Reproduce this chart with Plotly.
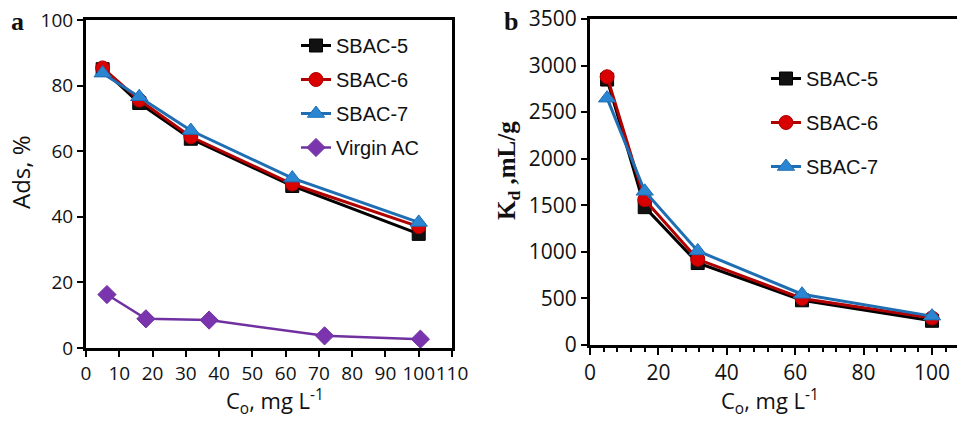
import plotly.graph_objects as go

# ---- data ----
series_names_a = ["SBAC-5", "SBAC-6", "SBAC-7", "Virgin AC"]
co_sbac = [5, 16, 31.5, 62, 100]
ads_sbac5 = [85.0, 74.7, 63.8, 49.4, 34.8]
ads_sbac6 = [85.4, 75.6, 64.4, 50.0, 37.0]
ads_sbac7 = [83.8, 76.6, 66.3, 51.8, 38.3]
co_virgin = [6.3, 18, 37, 71.7, 100.5]
ads_virgin = [16.3, 8.9, 8.5, 3.7, 2.7]

series_names_b = ["SBAC-5", "SBAC-6", "SBAC-7"]
co_kd = [5, 16, 31.5, 62, 100]
kd_sbac5 = [2850, 1480, 880, 480, 260]
kd_sbac6 = [2880, 1560, 920, 500, 290]
kd_sbac7 = [2650, 1650, 1010, 545, 310]

ticks_a_x = list(range(0, 111, 10))
ticks_a_y = list(range(0, 101, 20))
ticks_b_x = list(range(0, 101, 20))
ticks_b_y = list(range(0, 3501, 500))

# ---- styles ----
styles = {
    "SBAC-5": dict(line="#000000", fill="#111111", symbol="square", size=13),
    "SBAC-6": dict(line="#B00000", fill="#D80000", symbol="circle", size=14),
    "SBAC-7": dict(line="#1F6EB3", fill="#2A86D2", symbol="triangle-up", size=15),
    "Virgin AC": dict(line="#7030A0", fill="#7A35AE", symbol="diamond", size=14),
}
W, H = 957, 421
TXT = "#111111"
tick_font = dict(family="Open Sans", size=19, color=TXT)
tick_font_b = dict(family="Open Sans", size=21, color=TXT)
legend_font = dict(family="Liberation Sans", size=20, color=TXT)
title_font = dict(family="Open Sans", size=24, color=TXT)
xtitle_font = dict(family="Open Sans", size=22, color=TXT)

fig = go.Figure()

def add(name, x, y, xa, ya, legend, width):
    s = styles[name]
    fig.add_trace(go.Scatter(
        x=x, y=y, name=name, mode="lines+markers",
        xaxis=xa, yaxis=ya, legend=legend, legendgroup=legend + name,
        line=dict(color=s["line"], width=width),
        marker=dict(symbol=s["symbol"], size=s["size"], color=s["fill"],
                    line=dict(color=s["line"], width=1)),
    ))

add("SBAC-5", co_sbac, ads_sbac5, "x", "y", "legend", 3)
add("SBAC-6", co_sbac, ads_sbac6, "x", "y", "legend", 3)
add("SBAC-7", co_sbac, ads_sbac7, "x", "y", "legend", 3)
add("Virgin AC", co_virgin, ads_virgin, "x", "y", "legend", 2.5)

add("SBAC-5", co_kd, kd_sbac5, "x2", "y2", "legend2", 3)
add("SBAC-6", co_kd, kd_sbac6, "x2", "y2", "legend2", 3)
add("SBAC-7", co_kd, kd_sbac7, "x2", "y2", "legend2", 3)

axis_common = dict(showgrid=False, zeroline=False, showline=True, linecolor="#000000",
                   linewidth=3, ticks="outside", tickcolor="#000000", tickwidth=2,
                   automargin=False, tickangle=0)

fig.update_layout(
    template="none",
    width=W, height=H, margin=dict(l=0, r=0, t=0, b=0, autoexpand=False),
    paper_bgcolor="white", plot_bgcolor="white",
    xaxis=dict(**axis_common, domain=[86 / W, 452 / W], range=[0, 110],
               tickvals=ticks_a_x, ticklen=6, mirror=True, tickfont=tick_font,
               anchor="y"),
    yaxis=dict(**axis_common, domain=[73 / H, 401 / H], range=[0, 100],
               tickvals=ticks_a_y, ticklen=6, mirror=True, tickfont=tick_font,
               anchor="x"),
    xaxis2=dict(**axis_common, domain=[590 / W, 1.0], range=[0, (W - 590) / 3.42],
                tickvals=ticks_b_x, ticklen=7, mirror=True, tickfont=tick_font_b,
                minor=dict(dtick=4, ticks="outside", ticklen=4, tickwidth=2, tickcolor="#000000"),
                anchor="y2"),
    yaxis2=dict(**axis_common, domain=[76 / H, 402 / H], range=[0, 3500],
                tickvals=ticks_b_y, ticklen=6, mirror=False, tickfont=tick_font_b,
                anchor="x2"),
    legend=dict(x=296 / W, y=1 - 26 / H, xanchor="left", yanchor="top",
                bgcolor="rgba(0,0,0,0)", font=legend_font, tracegroupgap=5,
                itemwidth=30),
    legend2=dict(x=766 / W, y=1 - 59 / H, xanchor="left", yanchor="top",
                 bgcolor="rgba(0,0,0,0)", font=legend_font, tracegroupgap=15,
                 itemwidth=30),
    showlegend=True,
)

# axis titles placed as paper annotations to match the reference positions
fig.add_annotation(text="C<sub>o</sub>, mg L<sup>-1</sup>", x=275 / W, y=1 - 420 / H,
                   xref="paper", yref="paper", xanchor="center", yanchor="bottom",
                   showarrow=False, font=xtitle_font, borderpad=0)
fig.add_annotation(text="C<sub>o</sub>, mg L<sup>-1</sup>", x=770 / W, y=1 - 420 / H,
                   xref="paper", yref="paper", xanchor="center", yanchor="bottom",
                   showarrow=False, font=xtitle_font, borderpad=0)
fig.add_annotation(text="Ads, %", x=20 / W, y=1 - 172 / H, xref="paper", yref="paper",
                   textangle=-90, xanchor="center", yanchor="middle", showarrow=False,
                   font=title_font)
fig.add_annotation(text="<b>K<sub>d</sub> ,mL/g</b>", x=508 / W, y=1 - 170 / H,
                   xref="paper", yref="paper", textangle=-90, xanchor="center",
                   yanchor="middle", showarrow=False,
                   font=dict(family="Liberation Serif", size=25, color=TXT))

fig.add_annotation(text="<b>a</b>", x=9 / W, y=1 - 22 / H, xref="paper", yref="paper",
                   xanchor="left", yanchor="middle", showarrow=False,
                   font=dict(family="Liberation Serif", size=26, color=TXT))
fig.add_annotation(text="<b>b</b>", x=502 / W, y=1 - 22 / H, xref="paper", yref="paper",
                   xanchor="left", yanchor="middle", showarrow=False,
                   font=dict(family="Liberation Serif", size=26, color=TXT))

fig.write_html("out.html")
